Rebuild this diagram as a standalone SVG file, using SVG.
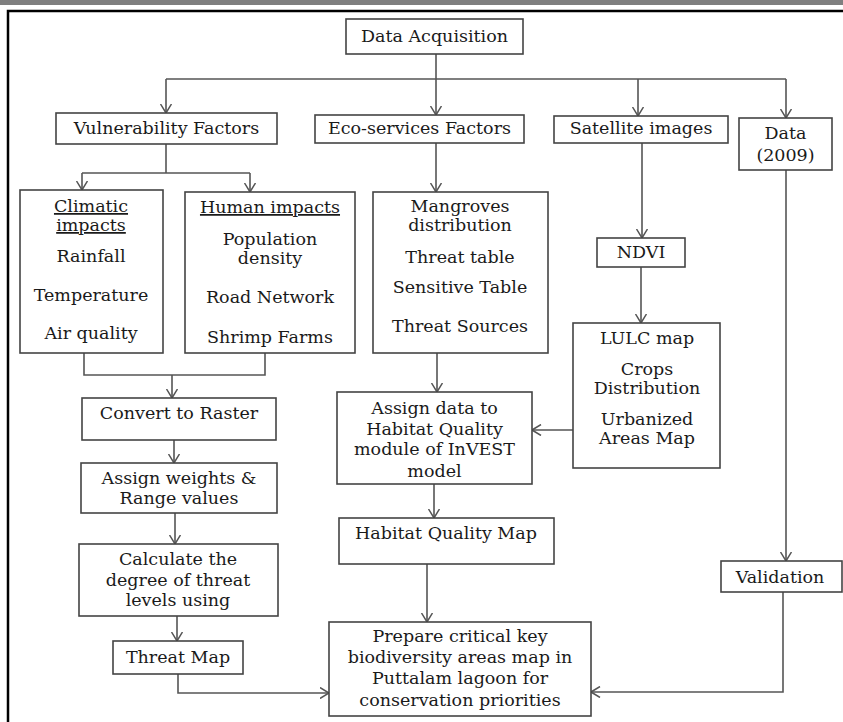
<svg xmlns="http://www.w3.org/2000/svg" width="843" height="722" viewBox="0 0 843 722">
<defs>
<marker id="arr" markerUnits="userSpaceOnUse" viewBox="0 0 10 12" refX="9.5" refY="6" markerWidth="10" markerHeight="12" orient="auto">
<path d="M0.5,0.5 L9.5,6 L0.5,11.5" fill="none" stroke="#555" stroke-width="1.5"/>
</marker>
<style>
.box{fill:#fff;stroke:#444;stroke-width:1.6}
.t{font-family:"DejaVu Serif","Liberation Serif",serif;font-size:17.5px;fill:#1a1a1a;text-anchor:middle}
.u{text-decoration:underline}
.c{fill:none;stroke:#555;stroke-width:1.6}
</style>
</defs>
<rect x="0" y="0" width="843" height="722" fill="#fff"/>
<rect x="0" y="0" width="843" height="5" fill="#7f7f7f"/>
<path d="M8,722 L8,11 L843,11" fill="none" stroke="#000" stroke-width="2.5"/>

<g id="connectors">
<path class="c" d="M436,54 L436,79"/>
<path class="c" d="M166,79 L786,79"/>
<path class="c" d="M166,79 L166,113" marker-end="url(#arr)"/>
<path class="c" d="M436,79 L436,115" marker-end="url(#arr)"/>
<path class="c" d="M638,79 L638,116" marker-end="url(#arr)"/>
<path class="c" d="M786,79 L786,118" marker-end="url(#arr)"/>
<path class="c" d="M166,144 L166,173"/>
<path class="c" d="M82,173 L250,173"/>
<path class="c" d="M82,173 L82,190" marker-end="url(#arr)"/>
<path class="c" d="M250,173 L250,192" marker-end="url(#arr)"/>
<path class="c" d="M436,143 L436,192" marker-end="url(#arr)"/>
<path class="c" d="M642,143 L642,238" marker-end="url(#arr)"/>
<path class="c" d="M641,267 L641,323" marker-end="url(#arr)"/>
<path class="c" d="M84,353 L84,375 L265,375 L265,353"/>
<path class="c" d="M172,375 L172,398" marker-end="url(#arr)"/>
<path class="c" d="M174,440 L174,463" marker-end="url(#arr)"/>
<path class="c" d="M175,513 L175,544" marker-end="url(#arr)"/>
<path class="c" d="M177,616 L177,641" marker-end="url(#arr)"/>
<path class="c" d="M178,674 L178,693 L329,693" marker-end="url(#arr)"/>
<path class="c" d="M437,353 L437,392" marker-end="url(#arr)"/>
<path class="c" d="M573,430 L532,430" marker-end="url(#arr)"/>
<path class="c" d="M434,484 L434,518" marker-end="url(#arr)"/>
<path class="c" d="M427,564 L427,622" marker-end="url(#arr)"/>
<path class="c" d="M786,170 L786,561" marker-end="url(#arr)"/>
<path class="c" d="M783,592 L783,692 L591,692" marker-end="url(#arr)"/>
</g>

<g id="data-acquisition">
<rect class="box" x="346" y="19" width="177" height="35"/>
<text class="t" x="434.5" y="42">Data Acquisition</text>
</g>
<g id="vulnerability-factors">
<rect class="box" x="56" y="113" width="221" height="31"/>
<text class="t" x="166.5" y="134">Vulnerability Factors</text>
</g>
<g id="eco-services-factors">
<rect class="box" x="315" y="115" width="209" height="28"/>
<text class="t" x="419.5" y="134">Eco-services Factors</text>
</g>
<g id="satellite-images">
<rect class="box" x="554" y="116" width="174" height="27"/>
<text class="t" x="641" y="134">Satellite images</text>
</g>
<g id="data-2009">
<rect class="box" x="739" y="118" width="93" height="52"/>
<text class="t" x="785.5" y="139">Data</text>
<text class="t" x="785.5" y="161">(2009)</text>
</g>
<g id="climatic-impacts">
<rect class="box" x="20" y="190" width="143" height="163"/>
<text class="t u" x="91" y="212">Climatic</text>
<text class="t u" x="91" y="231">impacts</text>
<text class="t" x="91" y="262">Rainfall</text>
<text class="t" x="91" y="301">Temperature</text>
<text class="t" x="91" y="339">Air quality</text>
</g>
<g id="human-impacts">
<rect class="box" x="185" y="192" width="170" height="161"/>
<text class="t u" x="270" y="213">Human impacts</text>
<text class="t" x="270" y="245">Population</text>
<text class="t" x="270" y="264">density</text>
<text class="t" x="270" y="303">Road Network</text>
<text class="t" x="270" y="343">Shrimp Farms</text>
</g>
<g id="eco-inputs">
<rect class="box" x="373" y="192" width="175" height="161"/>
<text class="t" x="460" y="212">Mangroves</text>
<text class="t" x="460" y="231">distribution</text>
<text class="t" x="460" y="263">Threat table</text>
<text class="t" x="460" y="293">Sensitive Table</text>
<text class="t" x="460" y="332">Threat Sources</text>
</g>
<g id="ndvi">
<rect class="box" x="597" y="238" width="88" height="29"/>
<text class="t" x="641" y="258">NDVI</text>
</g>
<g id="lulc">
<rect class="box" x="573" y="323" width="147" height="145"/>
<text class="t" x="647" y="344">LULC map</text>
<text class="t" x="647" y="375">Crops</text>
<text class="t" x="647" y="394">Distribution</text>
<text class="t" x="647" y="425">Urbanized</text>
<text class="t" x="647" y="444">Areas Map</text>
</g>
<g id="convert-to-raster">
<rect class="box" x="82" y="398" width="194" height="42"/>
<text class="t" x="179" y="419">Convert to Raster</text>
</g>
<g id="assign-weights">
<rect class="box" x="81" y="463" width="196" height="50"/>
<text class="t" x="179" y="484">Assign weights &amp;</text>
<text class="t" x="179" y="504">Range values</text>
</g>
<g id="calculate-threat">
<rect class="box" x="79" y="544" width="199" height="72"/>
<text class="t" x="178" y="565">Calculate the</text>
<text class="t" x="178" y="586">degree of threat</text>
<text class="t" x="178" y="606">levels using</text>
</g>
<g id="threat-map">
<rect class="box" x="113" y="641" width="130" height="33"/>
<text class="t" x="178" y="663">Threat Map</text>
</g>
<g id="assign-data">
<rect class="box" x="337" y="392" width="195" height="92"/>
<text class="t" x="434.5" y="414">Assign data to</text>
<text class="t" x="434.5" y="435">Habitat Quality</text>
<text class="t" x="434.5" y="455">module of InVEST</text>
<text class="t" x="434.5" y="477">model</text>
</g>
<g id="habitat-quality-map">
<rect class="box" x="339" y="518" width="215" height="46"/>
<text class="t" x="446" y="539">Habitat Quality Map</text>
</g>
<g id="validation">
<rect class="box" x="721" y="561" width="121" height="31"/>
<text class="t" x="780" y="583">Validation</text>
</g>
<g id="critical-areas-map">
<rect class="box" x="329" y="622" width="262" height="94"/>
<text class="t" x="460" y="642">Prepare critical key</text>
<text class="t" x="460" y="663">biodiversity areas map in</text>
<text class="t" x="460" y="684">Puttalam lagoon for</text>
<text class="t" x="460" y="706">conservation priorities</text>
</g>
</svg>
